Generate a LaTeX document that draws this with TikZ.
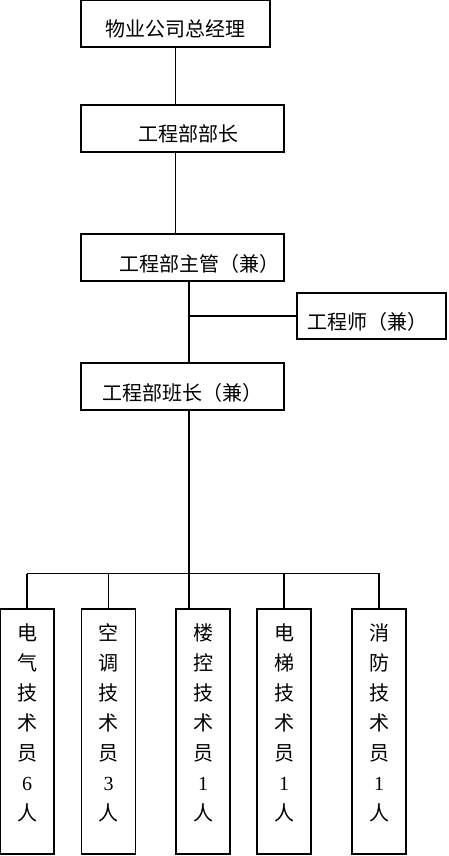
\documentclass[tikz,border=0pt]{standalone}
\usepackage{fontspec}
\setmainfont{Liberation Serif}
\newfontfamily\cjk{Noto Sans CJK SC}
\usetikzlibrary{calc}
\tikzstyle{post}=[draw, rectangle, line width=1.1pt, inner sep=0pt, minimum width=203pt,
text height=37pt, text depth=10pt, font=\cjk\fontsize{20pt}{24pt}\selectfont]
\tikzstyle{tech}=[draw, rectangle, line width=1.1pt, inner sep=0pt, minimum width=54pt,
align=center, text height=211pt, text depth=34pt, font=\cjk\fontsize{20pt}{30pt}\selectfont]
\tikzstyle{link}=[line width=1.1pt]

\begin{document}
\begin{tikzpicture}[x=1pt,y=1pt,node distance=129pt]
      \useasboundingbox (0,0) rectangle (448,-856);
      \node [post, minimum width=189pt] (gm) at (175.5,-23.5) {物业公司总经理};
      \node [post] (head) [below of=gm, node distance=105pt, xshift=7pt] {\hspace*{11pt}工程部部长};
      \node [post] (sup) [below of=head] {\hspace*{33pt}工程部主管（兼）};
      \node [post] (lead) [below of=sup] {工程部班长（兼）};
      \node [post, minimum width=149pt, text height=36.5pt, text depth=9.5pt] (eng) [right of=sup, node distance=189pt, yshift=-58.5pt] {工程师（兼）\hspace*{9pt}};
      \node [tech] (elec) at (27,-731.5) {电\\气\\技\\术\\员\\{\rmfamily 6}\\人};
      \node [tech] (air) [right of=elec, node distance=81.5pt] {空\\调\\技\\术\\员\\{\rmfamily 3}\\人};
      \node [tech] (bldg) [right of=air, node distance=94.5pt] {楼\\控\\技\\术\\员\\{\rmfamily 1}\\人};
      \node [tech] (lift) [right of=bldg, node distance=81pt] {电\\梯\\技\\术\\员\\{\rmfamily 1}\\人};
      \node [tech] (fire) [right of=lift, node distance=95pt] {消\\防\\技\\术\\员\\{\rmfamily 1}\\人};
      \coordinate (spine) at ([xshift=6.5pt]sup.south);
      \coordinate (bus) at ($(lead.south)+(6.5,-163)$);
      \draw [link] (gm.south) -- (gm.south |- head.north);
      \draw [link] (gm.south |- head.south) -- (gm.south |- sup.north);
      \draw [link] (spine) -- (spine |- lead.north);
      \draw [link] (spine |- eng.west) -- (eng.west);
      \draw [link] ([xshift=6.5pt]lead.south) -- (bus);
      \draw [link] (elec.north |- bus) -- (elec.north);
      \draw [link] (elec.north |- bus) -- (fire.north |- bus) -- (fire.north);
      \draw [link] (air.north |- bus) -- (air.north);
      \draw [link] (bus) -- (bus |- bldg.north);
      \draw [link] (lift.north |- bus) -- (lift.north);
\end{tikzpicture}
\end{document}
